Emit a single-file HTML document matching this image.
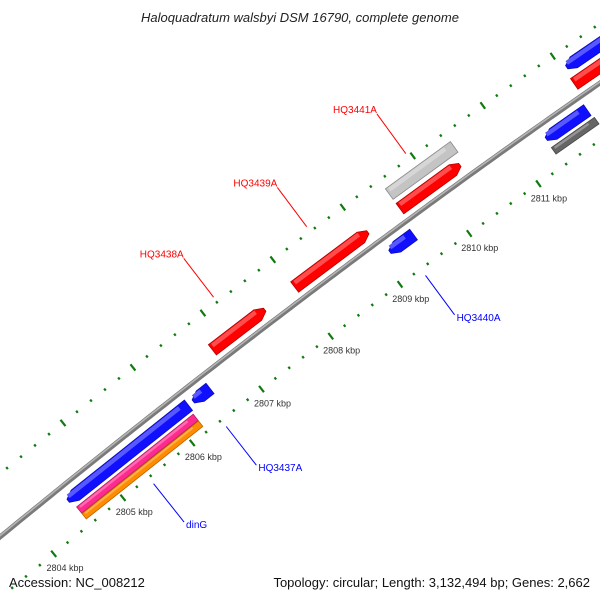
<!DOCTYPE html>
<html><head><meta charset="utf-8"><style>
html,body{margin:0;padding:0;background:#fff;}
svg{display:block;font-family:"Liberation Sans","DejaVu Sans",sans-serif;}
</style></head><body>
<svg id="chart" width="600" height="600" viewBox="0 0 600 600" xmlns="http://www.w3.org/2000/svg">
<rect width="600" height="600" fill="#fff"/>
<g id="ticks"></g>
<g id="backbone"></g>
<g id="genes"></g>
<g id="labels"></g>
<text x="300" y="22" text-anchor="middle" font-size="13" font-style="italic" fill="#222">Haloquadratum walsbyi DSM 16790, complete genome</text>
<text x="9" y="587" font-size="13" fill="#111">Accession: NC_008212</text>
<text x="590" y="587" text-anchor="end" font-size="13" fill="#111">Topology: circular; Length: 3,132,494 bp; Genes: 2,662</text>
</svg>
<script>
const tickKbp = [2803, 2804, 2805, 2806, 2807, 2808, 2809, 2810, 2811, 2812, 2813];
const tickLabels = ["", "2804 kbp", "2805 kbp", "2806 kbp", "2807 kbp", "2808 kbp", "2809 kbp", "2810 kbp", "2811 kbp", "", ""];
const geneNames = ["", "dinG", "", "HQ3437A", "HQ3438A", "HQ3439A", "HQ3440A", "HQ3441A", "", "", "", "", ""];
const geneStart = [2804.50, 2804.53, 2804.53, 2806.30, 2806.83, 2808.01, 2809.13, 2809.52, 2809.52, 2811.38, 2811.37, 2812.06, 2812.02];
const geneEnd   = [2806.23, 2806.21, 2806.21, 2806.54, 2807.58, 2809.06, 2809.47, 2810.38, 2810.45, 2811.97, 2811.99, 2813.50, 2813.50];
const geneStrand = [-1, 0, 0, -1, 1, 1, -1, 1, 0, -1, 0, -1, 1];
const geneTrack = ["in1", "in2", "in3", "in1", "out1", "out1", "in1", "out1", "out2", "in1", "in2", "out2", "out1"];
const geneColor = ["#1010ff", "#ff2a90", "#ff8c00", "#1010ff", "#ff0000", "#ff0000", "#1010ff", "#ff0000", "#c4c4c4", "#1010ff", "#666666", "#1010ff", "#ff0000"];

const NS = "http://www.w3.org/2000/svg";
const trackOffset = {in1: 15, in2: 29, in3: 37, out1: -14, out2: -32};
const trackHalf = {in1: 6.5, in2: 4, in3: 3.5, out1: 6.5, out2: 6.5};

function bx(k) { return 24 + (k - 2804) * 69.6; }
function yb(x) { return 537 - 0.82 * x + 0.0001056 * x * x; }
function pt(k, d) {
  const x = bx(k), y = yb(x);
  const s = -0.82 + 0.0002112 * x;
  const L = Math.sqrt(1 + s * s);
  const nx = -s / L, ny = 1 / L;
  return [x + d * nx, y + d * ny];
}
function mk(tag, attrs, parent) {
  const e = document.createElementNS(NS, tag);
  for (const a in attrs) e.setAttribute(a, attrs[a]);
  parent.appendChild(e);
  return e;
}
function shade(hex, f) {
  const n = parseInt(hex.slice(1), 16);
  let r = n >> 16, g = (n >> 8) & 255, b = n & 255;
  const m = c => Math.max(0, Math.min(255, Math.round(f > 0 ? c + (255 - c) * f : c * (1 + f))));
  return "rgb(" + m(r) + "," + m(g) + "," + m(b) + ")";
}

// backbone
const bb = document.getElementById("backbone");
let pts = [];
for (let x = -10; x <= 620; x += 5) pts.push(x + "," + yb(x).toFixed(1));
const bl = mk("polyline", {points: pts.join(" "), fill: "none", stroke: "#7a7a7a", "stroke-width": 5}, bb);


const bl2 = mk("polyline", {points: pts.join(" "), fill: "none", stroke: "#b5b5b5", "stroke-width": 1.6, transform: "translate(-0.6,-0.8)"}, bb);



// ticks
const tg = document.getElementById("ticks");
for (let i = 0; i < tickKbp.length - 1; i++) {
  for (let j = 0; j < 5; j++) {
    const k = tickKbp[i] + j * 0.2;
    const major = j === 0;
    const len = major ? 4 : 1.3;
    [47, -49].forEach(function (d) {
      const a = pt(k, d - len), b = pt(k, d + len);
      const t = mk("line", {x1: a[0], y1: a[1], x2: b[0], y2: b[1], stroke: "#107a10", "stroke-width": major ? 2.2 : 2.2}, tg);
      
      
    });
  }
  if (tickLabels[i]) {
    const p = pt(tickKbp[i], 65);
    const lt = mk("text", {x: p[0], y: p[1] + 3, "text-anchor": "middle", "font-size": 9, fill: "#333"}, tg);
    lt.textContent = tickLabels[i];
    
    
  }
}

// genes
const gg = document.getElementById("genes");
const lg = document.getElementById("labels");
for (let i = 0; i < geneStart.length; i++) {
  const d = trackOffset[geneTrack[i]], h = trackHalf[geneTrack[i]];
  const k1 = geneStart[i], k2 = geneEnd[i], a = 0.1;
  let poly;
  if (geneStrand[i] === 1) {
    poly = [pt(k1, d - h), pt(k2 - a, d - h), pt(k2, d - h * 0.3), pt(k2, d + h * 0.3), pt(k2 - a, d + h), pt(k1, d + h)];
  } else if (geneStrand[i] === -1) {
    poly = [pt(k1 + a, d - h), pt(k2, d - h), pt(k2, d + h), pt(k1 + a, d + h), pt(k1, d + h * 0.3), pt(k1, d - h * 0.3)];
  } else {
    poly = [pt(k1, d - h), pt(k2, d - h), pt(k2, d + h), pt(k1, d + h)];
  }
  const g = mk("g", {}, gg);
  
  
  const s = poly.map(p => p[0].toFixed(1) + "," + p[1].toFixed(1)).join(" ");
  const base = mk("polygon", {points: s, fill: geneColor[i], stroke: shade(geneColor[i], -0.3), "stroke-width": 0.8}, g);
  
  
  const hl = [pt(k1 + 0.03, d - h + 0.8), pt(k2 - a, d - h + 0.8), pt(k2 - a, d - h * 0.2), pt(k1 + 0.03, d - h * 0.2)];
  const hp = mk("polygon", {points: hl.map(p => p[0].toFixed(1) + "," + p[1].toFixed(1)).join(" "), fill: shade(geneColor[i], 0.3)}, g);
  
  

  if (geneNames[i]) {
    const km = (k1 + k2) / 2;
    const out = d < 0;
    const p1 = pt(km, out ? -55 : 55), p2 = pt(km, out ? -104 : 104);
    const col = out ? "#ff0000" : "#0000ff";
    const ln = mk("line", {x1: p1[0], y1: p1[1], x2: p2[0], y2: p2[1], stroke: col, "stroke-width": 1}, lg);
    
    
    const tx = mk("text", {x: out ? p2[0] : p2[0] + 2, y: out ? p2[1] - 1 : p2[1] + 6, "text-anchor": out ? "end" : "start", "font-size": 10, fill: col}, lg);
    tx.textContent = geneNames[i];
    
    
  }
}
</script>
</body></html>
